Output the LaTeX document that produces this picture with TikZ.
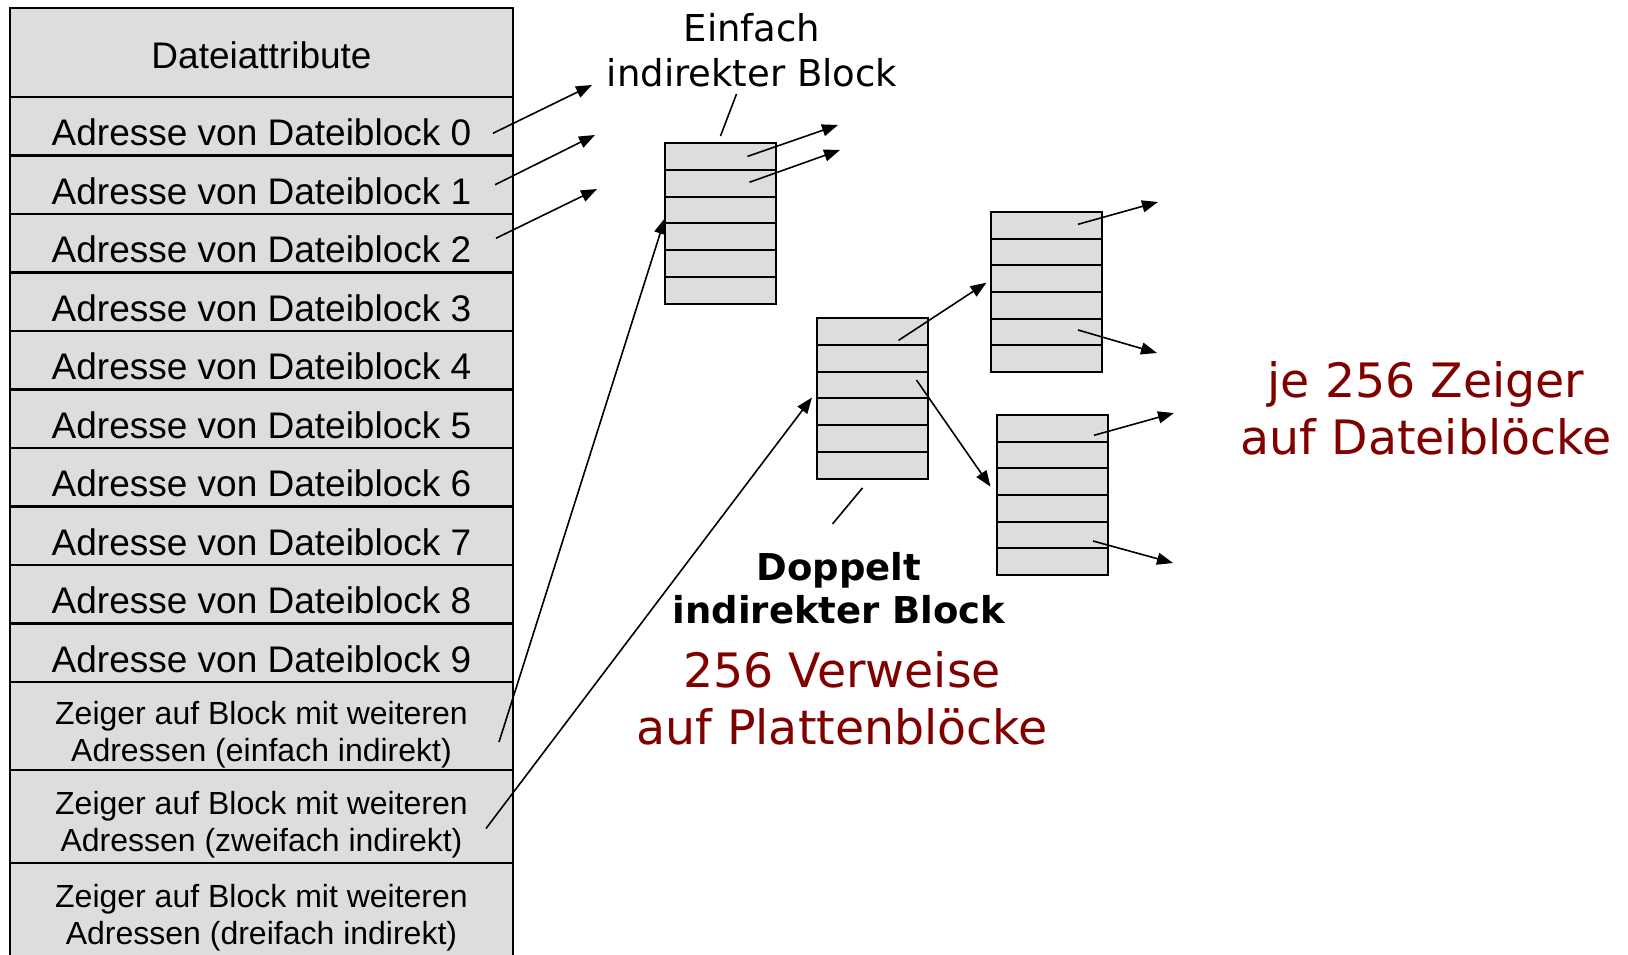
\documentclass[tikz,border=0pt]{standalone}
\usepackage{fontspec}
\setmainfont{DejaVu Sans}
\newfontfamily\arialfont{Liberation Sans}
\usepackage{xcolor}
\usepackage{tikz}
\usetikzlibrary{arrows.meta,calc,positioning}

\definecolor{zellgrau}{HTML}{DDDDDD}
\definecolor{dunkelrot}{HTML}{800000}

\begin{document}
\begin{tikzpicture}[
                        x=0.5pt, y=-0.5pt,
                        zeile/.style={
                                draw, fill=zellgrau, line width=1.1pt,
                                minimum width=251.5pt, inner sep=0pt, outer sep=0pt,
                                anchor=north west,
                                font=\arialfont\fontsize{18.5}{22}\selectfont,
                            },
                        zeiger/.style={
                                zeile, align=center,
                                font=\arialfont\fontsize{16}{18.5}\selectfont,
                            },
                        zelle/.style={
                                draw, fill=zellgrau, line width=1pt,
                                minimum width=55.5pt, minimum height=13.4pt,
                                inner sep=0pt, outer sep=0pt,
                            },
                        pfeil/.style={
                                line width=0.8pt,
                                -{Triangle[length=8pt,width=6pt]},
                            },
                        rottext/.style={
                                text=dunkelrot, align=center,
                                font=\fontsize{23.7}{28.5}\selectfont,
                            },
                    ]

                    \clip (0,0) rectangle (1628,954);

                    % i-node
                    \node[zeile, minimum height=44.5pt, text height=15.5pt, text depth=0pt] (attr) at (10,8) {Dateiattribute};

                    \foreach \k in {0,1,...,9}{
                            \node[zeile, minimum height=29.25pt, text height=19.5pt, text depth=0pt] (a\k) at (10,{97+58.5*\k}) {Adresse von Dateiblock \k};
                        }

                    \node[zeiger, minimum height=44pt] (z1) at (10,682) {\rule{0pt}{20pt}Zeiger auf Block mit weiteren\\Adressen (einfach indirekt)};
                    \node[zeiger, minimum height=46.5pt] (z2) at (10,770) {\rule{0pt}{20pt}Zeiger auf Block mit weiteren\\Adressen (zweifach indirekt)};
                    \node[zeiger, minimum height=46.5pt] (z3) at (10,863) {\rule{0pt}{20pt}Zeiger auf Block mit weiteren\\Adressen (dreifach indirekt)};

                    % Indirekte Bloecke
                    \foreach \i in {1,2,...,6}{
                            \node[zelle] (ein\i) at (720.5,{156.4+26.83*(\i-1)}) {};
                            \node[zelle] (dop\i) at (872.5,{331.4+26.83*(\i-1)}) {};
                            \node[zelle] (zo\i) at (1046,{225.3+26.67*(\i-1)}) {};
                            \node[zelle] (zu\i) at (1052,{428.3+26.67*(\i-1)}) {};
                        }

                    % Ziele der Zeiger
                    \coordinate (d0) at (592,85);
                    \coordinate (d1) at (595,135);
                    \coordinate (d2) at (597,189);
                    \coordinate (e1) at (838,125);
                    \coordinate (e2) at (840,150);
                    \coordinate (o1) at (1158,202);
                    \coordinate (o2) at (1157,353);
                    \coordinate (u1) at (1174,413);
                    \coordinate (u2) at (1173,563);

                    \draw[pfeil] ($(a0.east)+(-20,7)$) -- (d0);
                    \draw[pfeil] ($(a1.east)+(-18,0)$) -- (d1);
                    \draw[pfeil] ($(a2.east)+(-17,-5)$) -- (d2);

                    \draw[pfeil] ($(ein1)+(27,0)$) -- (e1);
                    \draw[pfeil] ($(ein2)+(29,-1)$) -- (e2);

                    \draw[pfeil] ($(z1.east)+(-14,16)$) -- ($(ein3.west)+(0,8)$);
                    \draw[pfeil] ($(z2.east)+(-27,12)$) -- ($(dop4.north west)+(-5,-1)$);

                    \draw[pfeil] ($(dop1)+(26,9)$) -- ($(zo3.west)+(-4,4)$);
                    \draw[pfeil] ($(dop3)+(44,-5)$) -- ($(zu3.west)+(-6,5)$);

                    \draw[pfeil] ($(zo1)+(32,-1)$) -- (o1);
                    \draw[pfeil] ($(zo5)+(32,-2)$) -- (o2);
                    \draw[pfeil] ($(zu1)+(42,7)$) -- (u1);
                    \draw[pfeil] ($(zu5)+(41,6)$) -- (u2);

                    % Beschriftungen
                    \node[align=center, font=\fontsize{18.5}{22.5}\selectfont] (einlab) at (752,50) {Einfach\\indirekter Block};
                    \draw[line width=0.8pt] ($(ein1.north)+(16,-49)$) -- ($(ein1.north)+(0,-7)$);

                    \node[align=center, font=\bfseries\fontsize{18.5}{21.5}\selectfont] (doplab) at (839,588) {Doppelt\\indirekter Block};
                    \draw[line width=0.8pt] ($(dop6.south)+(-10,9)$) -- ($(dop6.south)+(-40,45)$);

                    \node[rottext] (verweise) at (842,698) {256 Verweise\\auf Plattenblöcke};
                    \node[rottext] (jezeiger) at (1426,408) {je 256 Zeiger\\auf Dateiblöcke};

                \end{tikzpicture}
\end{document}
